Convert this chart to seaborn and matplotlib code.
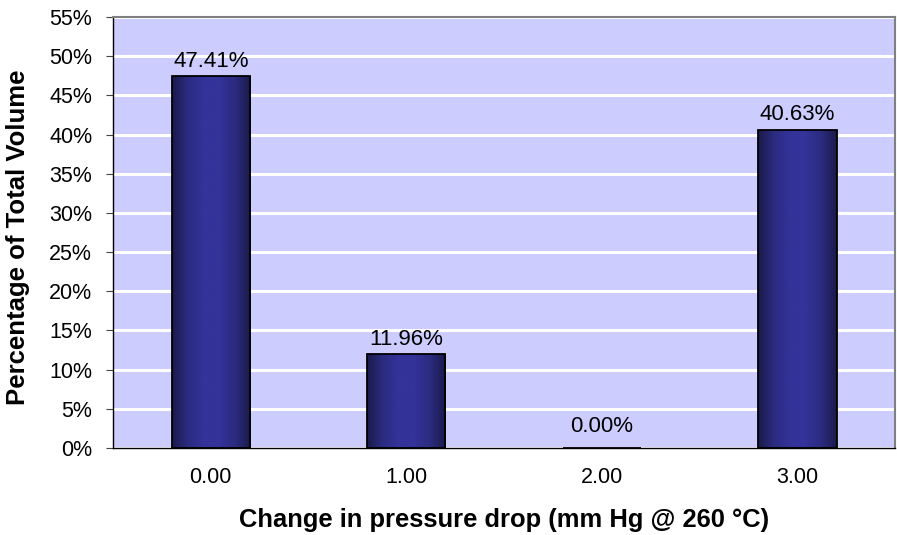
import numpy as np
import pandas as pd
import matplotlib
matplotlib.use("Agg")
import matplotlib.pyplot as plt
import seaborn as sns
from matplotlib.colors import LinearSegmentedColormap

categories = ["0.00", "1.00", "2.00", "3.00"]
percent = [47.41, 11.96, 0.00, 40.63]
value_labels = ["47.41%", "11.96%", "0.00%", "40.63%"]
y_ticks = list(range(0, 60, 5))

df = pd.DataFrame({"change": categories, "percent": percent})

sns.set_theme(style="white")
plt.rcParams["font.family"] = ["Liberation Sans", "DejaVu Sans"]
plt.rcParams["text.color"] = "black"
plt.rcParams["axes.labelcolor"] = "black"
plt.rcParams["xtick.color"] = "black"
plt.rcParams["ytick.color"] = "black"

fig = plt.figure(figsize=(8.97, 5.35), dpi=100)
ax = fig.add_axes([0.126, 0.1626, 0.872, 0.8056])
ax.set_facecolor("#ccccff")

sns.barplot(data=df, x="change", y="percent", color="#333399",
            width=0.40, edgecolor="black", linewidth=1.3, ax=ax, zorder=3)

# horizontal gradient on each bar (dark edges, lighter centre)
cmap = LinearSegmentedColormap.from_list(
    "bar", ["#1a1a4a", "#2b2b80", "#333399", "#333399", "#2b2b80", "#1a1a4a"])
grad = np.linspace(0, 1, 256).reshape(1, -1)
for p in ax.patches:
    if p.get_height() <= 0:
        continue
    x0, w, h = p.get_x(), p.get_width(), p.get_height()
    im = ax.imshow(grad, cmap=cmap, aspect="auto", extent=[x0, x0 + w, 0, h],
                   zorder=3.5, interpolation="bilinear")
    im.set_clip_path(p)
    p.set_facecolor("none")
    p.set_zorder(4)

for i, (v, lab) in enumerate(zip(percent, value_labels)):
    off = 7 if v > 0 else 11.5
    ax.annotate(lab, (i, v), xytext=(0, off), textcoords="offset points",
                ha="center", va="baseline", fontsize=16, color="black", zorder=5)

ax.set_xlim(-0.5, len(categories) - 0.5)
ax.set_ylim(0, 55)
ax.set_yticks(y_ticks)
ax.set_yticklabels([f"{t}%" for t in y_ticks], fontsize=15.5)
ax.yaxis.grid(True, color="white", linewidth=2.2, zorder=1)
ax.set_axisbelow(True)

ax.set_xticks(range(len(categories)))
ax.set_xticklabels(categories, fontsize=15.5)
ax.set_xticks(np.arange(0.5, len(categories) - 0.5, 1), minor=True)
ax.tick_params(axis="x", which="major", length=0, pad=14)
ax.tick_params(axis="x", which="minor", length=5, width=0.8, color="#444444", direction="out")
ax.tick_params(axis="y", length=5, width=0.8, color="#444444", direction="out", left=True, pad=10)

ax.set_xlabel("Change in pressure drop (mm Hg @ 260 °C)", fontsize=18.4,
              fontweight="bold", labelpad=14)
ax.set_ylabel("Percentage of Total Volume", fontsize=18.5, fontweight="bold")
ax.yaxis.set_label_coords(-0.106, 0.49)

for side in ["left", "bottom"]:
    ax.spines[side].set_color("black")
    ax.spines[side].set_linewidth(1.0)
for side in ["top", "right"]:
    ax.spines[side].set_color("#808080")
    ax.spines[side].set_linewidth(1.5)

fig.savefig("out.png", dpi=100)
